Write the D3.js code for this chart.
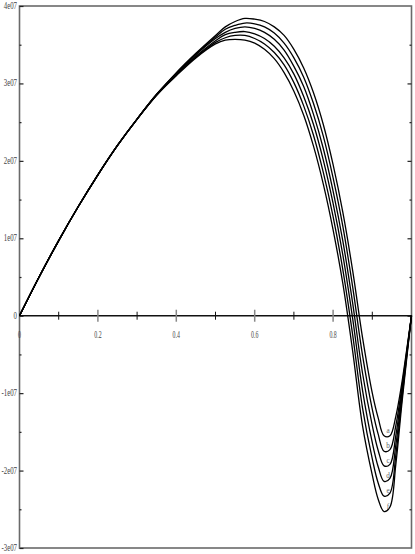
<!DOCTYPE html>
<html>
<head>
<meta charset="utf-8">
<script src="https://cdn.jsdelivr.net/npm/d3@7"></script>
<style>
  html, body { margin: 0; padding: 0; background: #fff; }
  svg { display: block; }
  .lbl { font-family: "Liberation Serif", "DejaVu Serif", serif; font-size: 9.5px; fill: #444; }
</style>
</head>
<body>
<div id="chart"></div>
<script>
// x positions where the curves were read (fraction of the interval)
var xs = [0, 0.05, 0.1, 0.15, 0.2, 0.25, 0.3, 0.35, 0.4, 0.45, 0.5, 0.525, 0.55, 0.575, 0.6, 0.625, 0.65, 0.675, 0.7, 0.725, 0.75, 0.775, 0.8, 0.825, 0.85, 0.875, 0.9, 0.915, 0.93, 0.945, 0.96, 0.975, 0.99, 1];

// curve values, in units of 1e07
var curveA = [0, 0.50, 0.97, 1.41, 1.82, 2.20, 2.54, 2.86, 3.14, 3.39, 3.62, 3.73, 3.80, 3.84, 3.83, 3.80, 3.73, 3.62, 3.44, 3.20, 2.88, 2.47, 1.95, 1.33, 0.58, -0.28, -1.00, -1.32, -1.55, -1.55, -1.30, -0.88, -0.36, 0];
var curveB = [0, 0.50, 0.97, 1.41, 1.82, 2.20, 2.54, 2.86, 3.13, 3.38, 3.60, 3.70, 3.75, 3.78, 3.77, 3.73, 3.65, 3.52, 3.33, 3.08, 2.74, 2.32, 1.78, 1.15, 0.37, -0.51, -1.21, -1.53, -1.75, -1.73, -1.42, -0.94, -0.38, 0];
var curveC = [0, 0.50, 0.97, 1.41, 1.82, 2.20, 2.54, 2.86, 3.12, 3.37, 3.58, 3.66, 3.71, 3.73, 3.71, 3.66, 3.57, 3.43, 3.22, 2.96, 2.60, 2.16, 1.61, 0.96, 0.16, -0.74, -1.42, -1.74, -1.94, -1.92, -1.55, -0.99, -0.40, 0];
var curveD = [0, 0.50, 0.97, 1.41, 1.82, 2.20, 2.54, 2.85, 3.12, 3.35, 3.55, 3.63, 3.66, 3.67, 3.64, 3.58, 3.48, 3.33, 3.12, 2.83, 2.47, 2.01, 1.45, 0.78, -0.04, -0.96, -1.64, -1.95, -2.14, -2.10, -1.67, -1.05, -0.41, 0];
var curveE = [0, 0.50, 0.97, 1.41, 1.82, 2.20, 2.54, 2.85, 3.11, 3.34, 3.53, 3.59, 3.62, 3.62, 3.58, 3.51, 3.40, 3.24, 3.01, 2.71, 2.33, 1.85, 1.28, 0.59, -0.25, -1.19, -1.85, -2.16, -2.33, -2.29, -1.80, -1.10, -0.43, 0];
var curveF = [0, 0.50, 0.97, 1.41, 1.82, 2.20, 2.54, 2.85, 3.10, 3.33, 3.51, 3.56, 3.57, 3.56, 3.52, 3.44, 3.32, 3.14, 2.90, 2.59, 2.19, 1.70, 1.11, 0.41, -0.46, -1.42, -2.06, -2.37, -2.53, -2.47, -1.92, -1.16, -0.45, 0];
var curveNames = ["a", "b", "c", "d", "e", "f"];

// axis ticks
var yTicks = [-3, -2, -1, 0, 1, 2, 3, 4];
var yTickLabels = ["-3e07", "-2e07", "-1e07", "0", "1e07", "2e07", "3e07", "4e07"];
var yMinorTicks = [-2.5, -1.5, -0.5, 0.5, 1.5, 2.5, 3.5];
var xTicks = [0, 0.2, 0.4, 0.6, 0.8];
var xTickLabels = ["0", "0.2", "0.4", "0.6", "0.8"];
var xMinorTicks = [0.1, 0.3, 0.5, 0.7, 0.9];

var W = 415, H = 554;
var plotLeft = 19.5, plotRight = 411.5, plotTop = 6, plotBottom = 548;

var svg = d3.select("#chart").append("svg").attr("width", W).attr("height", H);

var x = d3.scaleLinear().domain([0, 1]).range([plotLeft, plotRight]);
var y = d3.scaleLinear().domain([-3, 4]).range([plotBottom, plotTop]);

function styleTicks(g){
    g.select(".domain").remove();
    g.selectAll("line").attr("stroke", "#222").attr("stroke-width", 1.2);
}

// frame
svg.append("rect")
    .attr("x", plotLeft).attr("y", plotTop)
    .attr("width", plotRight - plotLeft).attr("height", plotBottom - plotTop)
    .attr("fill", "none").attr("stroke", "#6a6a6a").attr("stroke-width", 1.6);

// left axis ticks (pointing inside)
svg.append("g").attr("transform", "translate(" + plotLeft + ",0)")
    .call(d3.axisRight(y).tickValues(yTicks).tickSize(4).tickFormat(""))
    .call(styleTicks);
svg.append("g").attr("transform", "translate(" + plotLeft + ",0)")
    .call(d3.axisRight(y).tickValues(yMinorTicks).tickSize(2).tickFormat(""))
    .call(styleTicks);

// right axis ticks
svg.append("g").attr("transform", "translate(" + plotRight + ",0)")
    .call(d3.axisLeft(y).tickValues(yTicks.slice(1, -1)).tickSize(4).tickFormat(""))
    .call(styleTicks);
svg.append("g").attr("transform", "translate(" + plotRight + ",0)")
    .call(d3.axisLeft(y).tickValues(yMinorTicks).tickSize(2).tickFormat(""))
    .call(styleTicks);

// y labels
svg.selectAll(".ylab").data(yTicks).enter().append("text")
    .attr("class", "lbl")
    .attr("text-anchor", "end")
    .attr("transform", function(d){ return "translate(17," + (y(d) + 3) + ") scale(0.72,1)"; })
    .text(function(d, i){ return yTickLabels[i]; });

// x axis along zero
svg.append("line")
    .attr("x1", plotLeft).attr("x2", plotRight)
    .attr("y1", y(0)).attr("y2", y(0))
    .attr("stroke", "#111").attr("stroke-width", 1.5);
svg.selectAll(".xmaj").data(xTicks.slice(1)).enter().append("line")
    .attr("x1", function(d){ return x(d); }).attr("x2", function(d){ return x(d); })
    .attr("y1", y(0) - 6).attr("y2", y(0) + 6)
    .attr("stroke", "#888").attr("stroke-width", 1.5);
svg.selectAll(".xmin").data(xMinorTicks).enter().append("line")
    .attr("x1", function(d){ return x(d); }).attr("x2", function(d){ return x(d); })
    .attr("y1", y(0) - 4).attr("y2", y(0) + 4)
    .attr("stroke", "#111").attr("stroke-width", 1);

svg.selectAll(".xlab").data(xTicks).enter().append("text")
    .attr("class", "lbl")
    .attr("text-anchor", "middle")
    .attr("transform", function(d){ return "translate(" + x(d) + "," + (y(0) + 22) + ") scale(0.62,1)"; })
    .text(function(d, i){ return xTickLabels[i]; });

// curves
var series = [curveA, curveB, curveC, curveD, curveE, curveF];
var line = d3.line()
    .x(function(d, i){ return x(xs[i]); })
    .y(function(d){ return y(d); })
    .curve(d3.curveCatmullRom.alpha(0.5));

svg.selectAll(".curve").data(series).enter().append("path")
    .attr("d", line)
    .attr("fill", "none")
    .attr("stroke", "#000")
    .attr("stroke-width", 1.3);

// curve letters just inside each trough
svg.selectAll(".name").data(series).enter().append("text")
    .attr("class", "lbl")
    .attr("text-anchor", "middle")
    .attr("transform", function(d){
        var i = d3.minIndex(d);
        return "translate(" + (x(xs[i]) + 4) + "," + (y(d[i]) - 3) + ") scale(0.8,1)";
    })
    .style("font-size", "9px")
    .style("fill", "#666")
    .text(function(d, i){ return curveNames[i]; });
</script>
</body>
</html>
